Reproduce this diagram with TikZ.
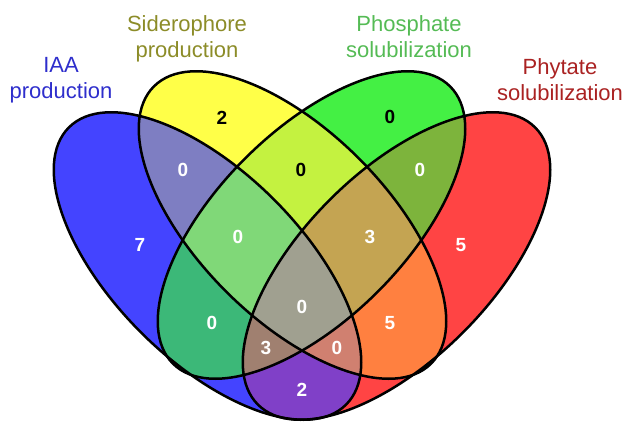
\documentclass[tikz,border=0pt]{standalone}
\usepackage{fontspec}
\setmainfont{Liberation Sans}
\usepackage{xcolor}
\usetikzlibrary{positioning}
\definecolor{iaablue}{HTML}{4444FF}
\definecolor{sidyellow}{HTML}{FFFF48}
\definecolor{phogreen}{HTML}{44F044}
\definecolor{phyred}{HTML}{FF4444}
\definecolor{iaasid}{HTML}{7E7EC2}
\definecolor{iaapho}{HTML}{3CB878}
\definecolor{iaaphy}{HTML}{8040C8}
\definecolor{sidpho}{HTML}{C4F240}
\definecolor{sidphy}{HTML}{FF8040}
\definecolor{phophy}{HTML}{7DB43C}
\definecolor{iaasidpho}{HTML}{80D878}
\definecolor{iaasidphy}{HTML}{D08070}
\definecolor{iaaphophy}{HTML}{A08070}
\definecolor{sidphophy}{HTML}{C4A452}
\definecolor{allfour}{HTML}{A0A090}
\definecolor{labelblue}{HTML}{2E2ECC}
\definecolor{labelolive}{HTML}{8C8C28}
\definecolor{labelgreen}{HTML}{55BB55}
\definecolor{labelred}{HTML}{AA2222}

\def\iaashape{(207.5,-266) ellipse [x radius=196pt, y radius=94pt, rotate=-45]}
\def\sidshape{(292.5,-225) ellipse [x radius=196pt, y radius=94pt, rotate=-45]}
\def\phoshape{(311.5,-225) ellipse [x radius=196pt, y radius=94pt, rotate=45]}
\def\physhape{(396.5,-266) ellipse [x radius=196pt, y radius=94pt, rotate=45]}

\begin{document}
\begin{tikzpicture}[x=1pt, y=1pt,
    count/.style={font=\fontsize{19}{21}\selectfont\bfseries, text=white},
    darkcount/.style={count, text=black},
    setlabel/.style={font=\fontsize{22}{26.5}\selectfont, align=center, anchor=north, inner sep=0pt},
    outline/.style={draw=black, line width=2.5pt},
]
\useasboundingbox (0,0) rectangle (628,-421);

% one set
\fill[iaablue] \iaashape;
\fill[sidyellow] \sidshape;
\fill[phogreen] \phoshape;
\fill[phyred] \physhape;

% two sets
\begin{scope} \clip \iaashape; \fill[iaasid] \sidshape; \end{scope}
\begin{scope} \clip \iaashape; \fill[iaapho] \phoshape; \end{scope}
\begin{scope} \clip \iaashape; \fill[iaaphy] \physhape; \end{scope}
\begin{scope} \clip \sidshape; \fill[sidpho] \phoshape; \end{scope}
\begin{scope} \clip \sidshape; \fill[sidphy] \physhape; \end{scope}
\begin{scope} \clip \phoshape; \fill[phophy] \physhape; \end{scope}

% three sets
\begin{scope} \clip \iaashape; \clip \sidshape; \fill[iaasidpho] \phoshape; \end{scope}
\begin{scope} \clip \iaashape; \clip \sidshape; \fill[iaasidphy] \physhape; \end{scope}
\begin{scope} \clip \iaashape; \clip \phoshape; \fill[iaaphophy] \physhape; \end{scope}
\begin{scope} \clip \sidshape; \clip \phoshape; \fill[sidphophy] \physhape; \end{scope}

% four sets
\begin{scope} \clip \iaashape; \clip \sidshape; \clip \phoshape; \fill[allfour] \physhape; \end{scope}

\draw[outline] \iaashape;
\draw[outline] \sidshape;
\draw[outline] \phoshape;
\draw[outline] \physhape;

\node[setlabel, text=labelblue] (iaa) at (61,-57) {IAA\\production};
\node[setlabel, text=labelolive] (sid) at (187,-15) {Siderophore\\production};
\node[setlabel, text=labelgreen] (pho) at (409,-15) {Phosphate\\solubilization};
\node[setlabel, text=labelred] (phy) at (560,-58) {Phytate\\solubilization};

\node[count] (n1) at (140,-245) {7};
\node[darkcount] (n2) at (222,-118) {2};
\node[darkcount] (n3) at (390,-117) {0};
\node[count] (n4) at (461,-245) {5};
\node[count] (n12) at (183,-170) {0};
\node[darkcount] (n23) at (301,-170) {0};
\node[count] (n34) at (420,-170) {0};
\node[count] (n123) at (238,-237) {0};
\node[count] (n234) at (370,-237) {3};
\node[count] (n13) at (212,-323) {0};
\node[count] (n24) at (390,-323) {5};
\node[count] (n1234) at (302,-307) {0};
\node[count] (n134) at (266,-348) {3};
\node[count] (n124) at (337,-348) {0};
\node[count] (n14) at (302,-390) {2};
\end{tikzpicture}
\end{document}
